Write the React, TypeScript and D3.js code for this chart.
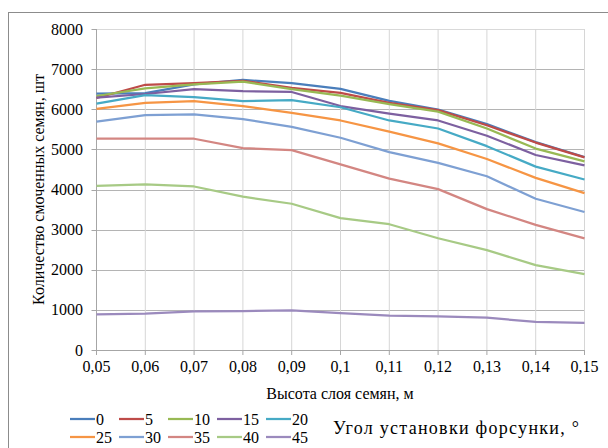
import React from "react";
import * as d3 from "d3";

const heights = [0.05, 0.06, 0.07, 0.08, 0.09, 0.1, 0.11, 0.12, 0.13, 0.14, 0.15];
const heightLabels = ["0,05", "0,06", "0,07", "0,08", "0,09", "0,1", "0,11", "0,12", "0,13", "0,14", "0,15"];
const yTicks = [0, 1000, 2000, 3000, 4000, 5000, 6000, 7000, 8000];

const angles = ["0", "5", "10", "15", "20", "25", "30", "35", "40", "45"];
const colors = ["#4A7EBB", "#BE4B48", "#98B954", "#7D60A0", "#46AAC5", "#F69544", "#7EA0D3", "#D38682", "#A7CA85", "#9B8ABD"];

const s0 = [6390, 6400, 6620, 6730, 6650, 6510, 6210, 5990, 5630, 5180, 4810];
const s5 = [6280, 6610, 6650, 6710, 6530, 6410, 6160, 5980, 5600, 5170, 4800];
const s10 = [6330, 6520, 6620, 6690, 6500, 6340, 6130, 5940, 5520, 5020, 4700];
const s15 = [6290, 6380, 6500, 6450, 6430, 6080, 5890, 5720, 5340, 4860, 4600];
const s20 = [6140, 6350, 6300, 6200, 6230, 6050, 5720, 5520, 5080, 4570, 4250];
const s25 = [6010, 6160, 6200, 6080, 5910, 5720, 5440, 5150, 4760, 4290, 3910];
const s30 = [5690, 5855, 5870, 5755, 5560, 5290, 4930, 4665, 4330, 3770, 3440];
const s35 = [5265, 5265, 5265, 5030, 4980, 4625, 4270, 4010, 3510, 3120, 2780];
const s40 = [4090, 4130, 4075, 3820, 3645, 3285, 3135, 2785, 2490, 2115, 1890];
const s45 = [890, 905, 965, 970, 990, 920, 855, 835, 805, 700, 675];

const series = [s0, s5, s10, s15, s20, s25, s30, s35, s40, s45];

const font = "'Liberation Serif', 'Times New Roman', Times, 'DejaVu Serif', serif";

export default function App() {
  const width = 608,
    height = 448;
  const x = d3.scaleLinear().domain([0.05, 0.15]).range([96.5, 584.5]);
  const y = d3.scaleLinear().domain([0, 8000]).range([350, 29]);

  const line = d3
    .line<number>()
    .x((d, i) => x(heights[i]))
    .y((d) => y(d));

  const txt = { fontFamily: font, fontSize: "16px", fill: "#000" };

  return (
    <svg
      width={width}
      height={height}
      style={{ position: "absolute", left: 0, top: 0, background: "#fff", fontFamily: font }}
    >
      <rect x={8.5} y={12.5} width={640} height={480} fill="#fff" stroke="#8C8C8C" strokeWidth={1} />

      {/* horizontal grid */}
      {yTicks.map((t) => (
        <line
          key={"h" + t}
          x1={x(0.05)}
          x2={x(0.15)}
          y1={Math.round(y(t)) + 0.5}
          y2={Math.round(y(t)) + 0.5}
          stroke={t === 8000 ? "#D9D9D9" : "#B4B4B4"}
        />
      ))}
      {/* vertical grid */}
      {heights.map((h, i) =>
        i === 0 ? null : (
          <line key={"v" + i} x1={x(h)} x2={x(h)} y1={y(8000)} y2={y(0)} stroke="#D6D6D6" />
        )
      )}

      {/* axes */}
      <line x1={x(0.05)} x2={x(0.05)} y1={y(8000)} y2={y(0)} stroke="#A6A6A6" />
      <line x1={x(0.05)} x2={x(0.15)} y1={Math.round(y(0)) + 0.5} y2={Math.round(y(0)) + 0.5} stroke="#A6A6A6" />
      {yTicks.map((t) => (
        <line
          key={"yt" + t}
          x1={x(0.05) - 5}
          x2={x(0.05)}
          y1={Math.round(y(t)) + 0.5}
          y2={Math.round(y(t)) + 0.5}
          stroke="#A6A6A6"
        />
      ))}
      {heights.map((h, i) => (
        <line key={"xt" + i} x1={x(h)} x2={x(h)} y1={y(0)} y2={y(0) + 5} stroke="#A6A6A6" />
      ))}

      {/* tick labels */}
      {yTicks.map((t) => (
        <text key={"yl" + t} x={83} y={y(t)} dy="0.35em" textAnchor="end" style={txt}>
          {t}
        </text>
      ))}
      {heights.map((h, i) => (
        <text key={"xl" + i} x={x(h)} y={372} textAnchor="middle" style={txt}>
          {heightLabels[i]}
        </text>
      ))}

      {/* series */}
      {series.map((s, k) => (
        <path key={"s" + k} d={line(s) || ""} fill="none" stroke={colors[k]} strokeWidth={2.25} strokeLinejoin="round" />
      ))}

      {/* axis titles */}
      <text x={340} y={399} textAnchor="middle" style={txt}>
        Высота слоя семян, м
      </text>
      <text
        transform={`translate(38, ${(y(0) + y(8000)) / 2}) rotate(-90)`}
        textAnchor="middle"
        dy="0.35em"
        style={txt}
      >
        Количество смоченных семян, шт
      </text>

      {/* legend */}
      {angles.map((a, k) => {
        const col = k % 5;
        const row = Math.floor(k / 5);
        const lx = 70 + col * 49;
        const ly = 419 + row * 18;
        return (
          <g key={"lg" + k}>
            <line x1={lx} x2={lx + 25} y1={ly} y2={ly} stroke={colors[k]} strokeWidth={2.25} />
            <text x={lx + 26} y={ly} dy="0.35em" style={txt}>
              {a}
            </text>
          </g>
        );
      })}
      <text x={333} y={428} dy="0.35em" style={{ ...txt, fontSize: "18px" }} textLength={246} lengthAdjust="spacing">
        Угол установки форсунки, °
      </text>
    </svg>
  );
}
